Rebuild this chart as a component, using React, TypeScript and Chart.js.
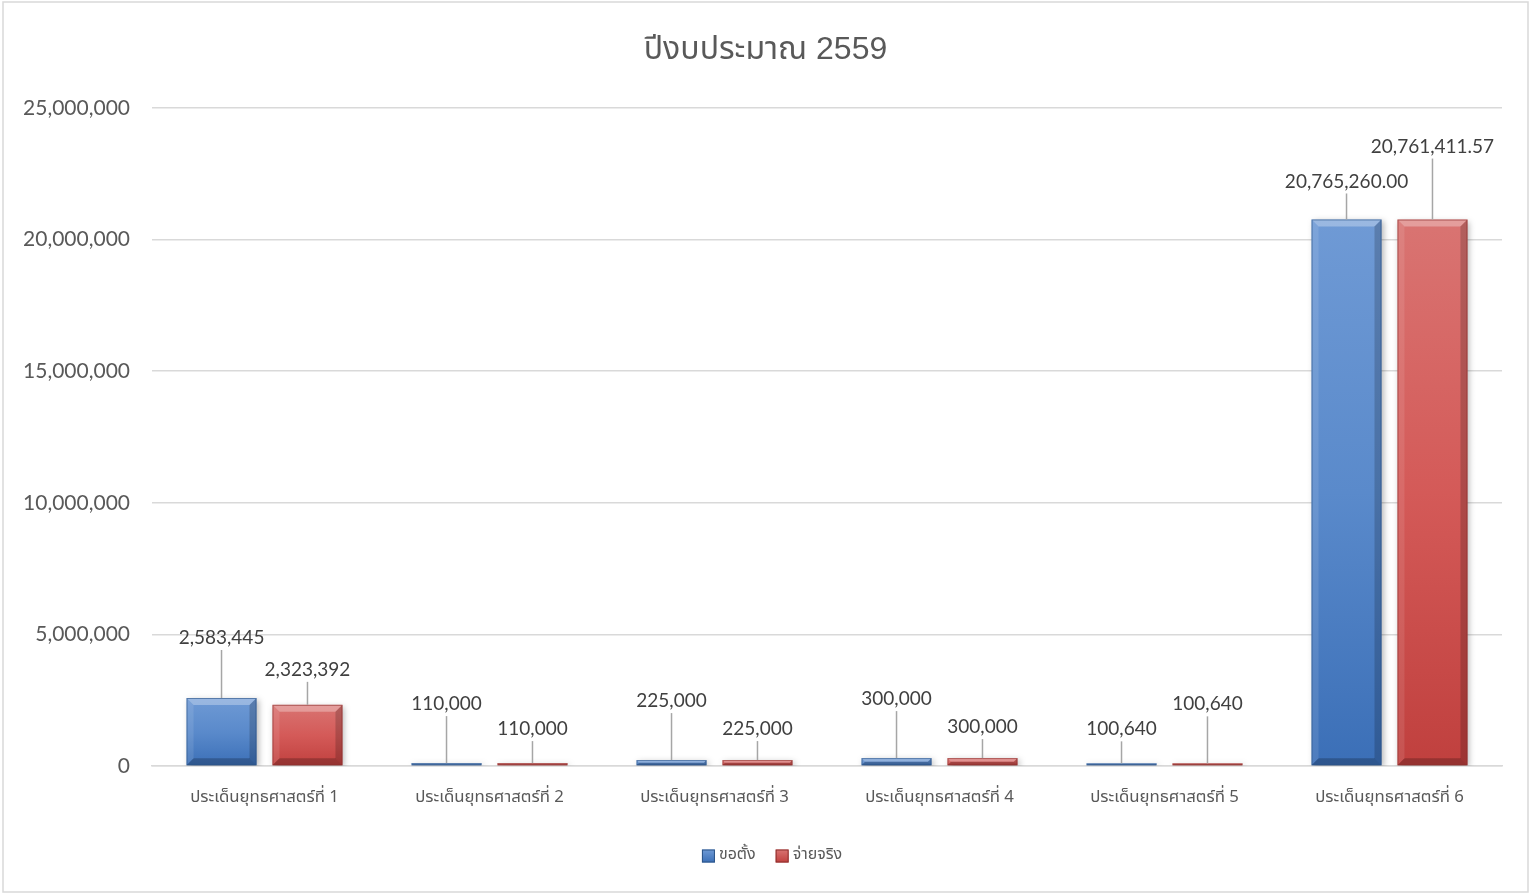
import React, { useEffect, useRef } from "react";
import { Chart, registerables } from "chart.js";

Chart.register(...registerables);

const categories = [
  "ประเด็นยุทธศาสตร์ที่ 1",
  "ประเด็นยุทธศาสตร์ที่ 2",
  "ประเด็นยุทธศาสตร์ที่ 3",
  "ประเด็นยุทธศาสตร์ที่ 4",
  "ประเด็นยุทธศาสตร์ที่ 5",
  "ประเด็นยุทธศาสตร์ที่ 6",
];
const seriesNames = ["ขอตั้ง", "จ่ายจริง"];
const requested = [2583445, 110000, 225000, 300000, 100640, 20765260.0];
const paid = [2323392, 110000, 225000, 300000, 100640, 20761411.57];
const labelDecimals = [0, 0, 0, 0, 0, 2];
const yTicks = [0, 5000000, 10000000, 15000000, 20000000, 25000000];
const titleText = "ปีงบประมาณ 2559";

// label lift above bar top (px), styling only
const labelLift = [
  [60, 59, 59, 59, 34, 38],
  [35, 34, 31, 31, 59, 73],
];

const palette = [
  { top: "#6f9ad5", mid: "#5a8acb", bottom: "#3b6fb7", solid: "#4f81bd", edge: "#2c5487" },
  { top: "#d97472", mid: "#d45a58", bottom: "#c0403e", solid: "#c0504d", edge: "#8c2f2d" },
];

const THAI_FONT = "Tahoma, 'Noto Sans Thai', 'Leelawadee UI', 'DejaVu Sans', sans-serif";
const TITLE_FONT = "'Liberation Sans', Arial, 'Noto Sans Thai', sans-serif";
const NUM_FONT = "Lato, 'Open Sans', 'Liberation Sans', sans-serif";

function fmt(v: number, d: number) {
  return v.toLocaleString("en-US", { minimumFractionDigits: d, maximumFractionDigits: d });
}

export default function App() {
  const ref = useRef<HTMLCanvasElement | null>(null);

  useEffect(() => {
    document.body.style.margin = "0";
    const canvas = ref.current;
    if (!canvas) return;

    const gradFor = (di: number) => (ctx: any) => {
      const chart = ctx.chart;
      const y = chart.scales && chart.scales.y;
      const p = palette[di];
      if (!y || !chart.chartArea || ctx.raw == null) return p.mid;
      const top = y.getPixelForValue(ctx.raw);
      const bot = y.getPixelForValue(0);
      if (!isFinite(top) || !isFinite(bot) || bot - top < 1) return p.mid;
      const g = chart.ctx.createLinearGradient(0, top, 0, bot);
      g.addColorStop(0, p.top);
      g.addColorStop(0.5, p.mid);
      g.addColorStop(1, p.bottom);
      return g;
    };

    const frame = {
      id: "frame",
      beforeDraw(chart: any) {
        const c = chart.ctx;
        c.save();
        c.fillStyle = "#ffffff";
        c.fillRect(0, 0, chart.width, chart.height);
        c.strokeStyle = "#d9d9d9";
        c.lineWidth = 1.5;
        c.strokeRect(3, 2, chart.width - 6, chart.height - 4);
        // title
        c.fillStyle = "#595959";
        c.font = `32px ${TITLE_FONT}`;
        c.textAlign = "center";
        c.textBaseline = "middle";
        c.fillText(titleText, chart.width / 2, 50);
        // legend
        c.font = `16px ${THAI_FONT}`;
        const box = 13;
        const gapBT = 4;
        const gapItems = 20;
        const widths = seriesNames.map((n) => c.measureText(n).width);
        const total = widths.reduce((a, w) => a + box + gapBT + w, 0) + gapItems * (seriesNames.length - 1);
        let x = 772 - total / 2;
        const ly = 856;
        seriesNames.forEach((n, i) => {
          const p = palette[i];
          const g = c.createLinearGradient(0, ly - box / 2, 0, ly + box / 2);
          g.addColorStop(0, p.top);
          g.addColorStop(1, p.bottom);
          c.fillStyle = g;
          c.fillRect(x, ly - box / 2, box, box);
          c.strokeStyle = p.edge;
          c.lineWidth = 1;
          c.strokeRect(x + 0.5, ly - box / 2 + 0.5, box - 1, box - 1);
          c.fillStyle = "#595959";
          c.textAlign = "left";
          c.fillText(n, x + box + gapBT, ly);
          x += box + gapBT + widths[i] + gapItems;
        });
        c.restore();
      },
    };

    const barFx = {
      id: "barFx",
      beforeDatasetsDraw(chart: any) {
        const c = chart.ctx;
        c.save();
        c.shadowColor = "rgba(0,0,0,0.28)";
        c.shadowBlur = 6;
        c.shadowOffsetX = 2;
        c.shadowOffsetY = 2;
      },
      afterDatasetsDraw(chart: any) {
        const c = chart.ctx;
        c.restore();
        c.save();
        chart.data.datasets.forEach((_ds: any, di: number) => {
          const meta = chart.getDatasetMeta(di);
          meta.data.forEach((el: any) => {
            const w = el.width;
            const l = el.x - w / 2;
            const r = el.x + w / 2;
            const t = Math.min(el.y, el.base);
            const b0 = Math.max(el.y, el.base);
            const h = b0 - t;
            if (h <= 0) return;
            const b = Math.min(7, h / 2, w / 2);
            const poly = (pts: number[][], col: string) => {
              c.beginPath();
              c.moveTo(pts[0][0], pts[0][1]);
              for (let k = 1; k < pts.length; k++) c.lineTo(pts[k][0], pts[k][1]);
              c.closePath();
              c.fillStyle = col;
              c.fill();
            };
            poly([[l, t], [r, t], [r - b, t + b], [l + b, t + b]], "rgba(255,255,255,0.30)");
            poly([[l, t], [l + b, t + b], [l + b, b0 - b], [l, b0]], "rgba(255,255,255,0.10)");
            poly([[r, t], [r - b, t + b], [r - b, b0 - b], [r, b0]], "rgba(0,0,0,0.18)");
            poly([[l, b0], [l + b, b0 - b], [r - b, b0 - b], [r, b0]], "rgba(0,0,0,0.22)");
            c.strokeStyle = palette[di].edge;
            c.globalAlpha = 0.6;
            c.lineWidth = 1;
            c.strokeRect(l + 0.5, t + 0.5, w - 1, h - 1);
            c.globalAlpha = 1;
          });
        });
        c.restore();
      },
    };

    const labelsPlugin = {
      id: "leaderLabels",
      afterDraw(chart: any) {
        const c = chart.ctx;
        c.save();
        c.font = `19px ${NUM_FONT}`;
        c.textAlign = "center";
        c.textBaseline = "middle";
        chart.data.datasets.forEach((ds: any, di: number) => {
          const meta = chart.getDatasetMeta(di);
          meta.data.forEach((el: any, i: number) => {
            const v = ds.data[i];
            const ly = el.y - labelLift[di][i];
            c.strokeStyle = "#a6a6a6";
            c.lineWidth = 1.5;
            c.beginPath();
            c.moveTo(el.x, ly + 12);
            c.lineTo(el.x, el.y);
            c.stroke();
            c.fillStyle = "#404040";
            c.fillText(fmt(v, labelDecimals[i]), el.x, ly);
          });
        });
        c.restore();
      },
    };

    const chart = new Chart(canvas, {
      type: "bar",
      data: {
        labels: categories,
        datasets: [
          {
            label: seriesNames[0],
            data: requested,
            backgroundColor: gradFor(0),
            borderWidth: 0,
            categoryPercentage: 0.764,
            barPercentage: 0.814,
          },
          {
            label: seriesNames[1],
            data: paid,
            backgroundColor: gradFor(1),
            borderWidth: 0,
            categoryPercentage: 0.764,
            barPercentage: 0.814,
          },
        ],
      },
      options: {
        animation: false,
        responsive: false,
        devicePixelRatio: 1,
        layout: { padding: { left: 0, right: 29, top: 108, bottom: 58 } },
        plugins: {
          title: { display: false },
          legend: { display: false },
          tooltip: { enabled: false },
        },
        scales: {
          x: {
            grid: { display: false },
            border: { display: true, color: "#d9d9d9", width: 1.5 },
            ticks: {
              color: "#595959",
              font: { size: 16.8, family: THAI_FONT },
              padding: 15,
              maxRotation: 0,
              autoSkip: false,
            },
            afterFit: (s: any) => {
              s.height = 70;
            },
          },
          y: {
            min: 0,
            max: 25000000,
            afterBuildTicks: (s: any) => {
              s.ticks = yTicks.map((v) => ({ value: v }));
            },
            grid: { color: "#d9d9d9", lineWidth: 1.5, drawTicks: false },
            border: { display: false },
            ticks: {
              color: "#595959",
              font: { size: 21, family: NUM_FONT },
              padding: 22,
              callback: (v: any) => Number(v).toLocaleString("en-US"),
            },
            afterFit: (s: any) => {
              s.width = 152;
            },
          },
        },
      },
      plugins: [frame, barFx, labelsPlugin],
    });

    return () => chart.destroy();
  }, []);

  return (
    <div style={{ width: 1531, height: 894 }}>
      <canvas ref={ref} width={1531} height={894} style={{ display: "block", width: 1531, height: 894 }} />
    </div>
  );
}
